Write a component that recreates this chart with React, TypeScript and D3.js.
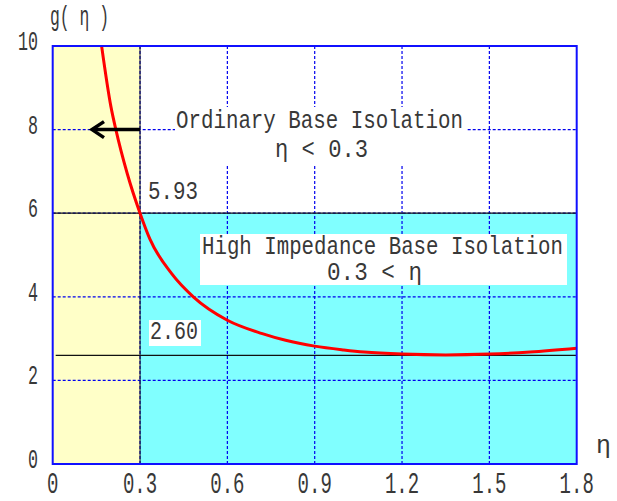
import React from "react";
import * as d3 from "d3";

// values
const etaValues = [0.168, 0.2, 0.217, 0.256, 0.3, 0.334, 0.408, 0.483, 0.6, 0.72, 0.8, 0.9, 1.0, 1.07, 1.2, 1.35, 1.5, 1.64, 1.8];
const gValues = [10.0, 8.55, 8.0, 6.95, 6.0, 5.38, 4.56, 4.0, 3.44, 3.12, 2.96, 2.82, 2.73, 2.68, 2.63, 2.61, 2.63, 2.68, 2.77];

const xTicks = [0, 0.3, 0.6, 0.9, 1.2, 1.5, 1.8];
const xTickLabels = ["0", "0.3", "0.6", "0.9", "1.2", "1.5", "1.8"];
const yTicks = [0, 2, 4, 6, 8, 10];
const yTickLabels = ["0", "2", "4", "6", "8", "10"];

const etaLimit = 0.3;
const gUpperLine = 6.0; // drawn level of the "5.93" line
const gMin = 2.6;
const arrowEnd = 0.135;
const arrowLevel = 8;

const WIDTH = 617;
const HEIGHT = 501;
const FONT = "'Liberation Mono', 'DejaVu Sans Mono', monospace";
const INK = "#383838";

const App = () => {
    const x = d3.scaleLinear().domain([0, 1.8]).range([52.7, 576.7]);
    const y = d3.scaleLinear().domain([0, 10]).range([464, 46]);

    const points: [number, number][] = etaValues.map((e, i) => [e, gValues[i]]);
    const line = d3.line<[number, number]>()
        .x(d => x(d[0]))
        .y(d => y(d[1]))
        .curve(d3.curveMonotoneX);

    const left = x(0), right = x(1.8), top = y(10), bottom = y(0);
    const ax = x(arrowEnd), ay = y(arrowLevel);

    return (
        <svg
            width={WIDTH}
            height={HEIGHT}
            style={{ position: "absolute", left: 0, top: 0, background: "#fff" }}
        >
            <defs>
                <clipPath id="plot">
                    <rect x={left} y={top} width={right - left} height={bottom - top} />
                </clipPath>
            </defs>

            {/* regions */}
            <rect x={left} y={top} width={x(etaLimit) - left} height={bottom - top} fill="#ffffc8" />
            <rect x={x(etaLimit)} y={y(gUpperLine)} width={right - x(etaLimit)} height={bottom - y(gUpperLine)} fill="#80ffff" />

            {/* grid */}
            {xTicks.slice(1, -1).map(t => (
                <line key={"gx" + t} x1={x(t)} x2={x(t)} y1={top} y2={bottom}
                    stroke="#0000ee" strokeWidth={1.2} strokeDasharray="3,2" />
            ))}
            {yTicks.slice(1, -1).map(t => (
                <line key={"gy" + t} x1={left} x2={right} y1={y(t)} y2={y(t)}
                    stroke="#0000ee" strokeWidth={1.2} strokeDasharray="3,2" />
            ))}

            {/* white label boxes */}
            <rect x={175} y={107} width={291} height={58} fill="#fff" />
            <rect x={200} y={234} width={367} height={51} fill="#fff" />
            <rect x={149} y={320} width={52} height={26} fill="#fff" />

            {/* reference lines */}
            <line x1={x(etaLimit)} x2={x(etaLimit)} y1={top} y2={bottom} stroke="#111" strokeWidth={1} />
            <line x1={left} x2={right} y1={y(gUpperLine)} y2={y(gUpperLine)} stroke="#111" strokeWidth={1.2} />
            <line x1={left + 3} x2={right} y1={y(gMin)} y2={y(gMin)} stroke="#111" strokeWidth={1.2} />

            {/* curve */}
            <path d={line(points) ?? ""} fill="none" stroke="#ff0000" strokeWidth={3} clipPath="url(#plot)" />

            {/* arrow */}
            <line x1={x(etaLimit)} x2={ax + 2} y1={ay} y2={ay} stroke="#000" strokeWidth={3.5} />
            <polyline points={`${ax + 12},${ay - 8} ${ax},${ay} ${ax + 12},${ay + 8}`}
                fill="none" stroke="#000" strokeWidth={3.5} strokeLinejoin="miter" />

            {/* frame */}
            <rect x={left} y={top} width={right - left} height={bottom - top}
                fill="none" stroke="#1010ff" strokeWidth={2} />

            {/* tick labels */}
            {xTicks.map((t, i) => (
                <text key={"tx" + t} x={x(t)} y={493} textAnchor="middle" fontFamily={FONT} fontSize={29}
                    fill={INK} textLength={xTickLabels[i].length * 11.4} lengthAdjust="spacingAndGlyphs">
                    {xTickLabels[i]}
                </text>
            ))}
            {yTicks.map((t, i) => (
                <text key={"ty" + t} x={38} y={y(t) + 4} textAnchor="end" fontFamily={FONT} fontSize={28}
                    fill={INK} textLength={yTickLabels[i].length * 10} lengthAdjust="spacingAndGlyphs">
                    {yTickLabels[i]}
                </text>
            ))}

            {/* axis titles */}
            <text x={50} y={25} fontFamily={FONT} fontSize={27} fill={INK} textLength={59} lengthAdjust="spacingAndGlyphs">g( η )</text>
            <text x={596} y={453} fontFamily={FONT} fontSize={25} fill={INK} textLength={15} lengthAdjust="spacingAndGlyphs">η</text>

            {/* annotations */}
            <text x={176} y={128} fontFamily={FONT} fontSize={26} fill={INK} textLength={287} lengthAdjust="spacingAndGlyphs">Ordinary Base Isolation</text>
            <text x={275} y={157} fontFamily={FONT} fontSize={26} fill={INK} textLength={93} lengthAdjust="spacingAndGlyphs">η &lt; 0.3</text>
            <text x={148} y={199} fontFamily={FONT} fontSize={26} fill={INK} textLength={50} lengthAdjust="spacingAndGlyphs">5.93</text>
            <text x={202} y={254} fontFamily={FONT} fontSize={26} fill={INK} textLength={361} lengthAdjust="spacingAndGlyphs">High Impedance Base Isolation</text>
            <text x={327} y={280} fontFamily={FONT} fontSize={26} fill={INK} textLength={95} lengthAdjust="spacingAndGlyphs">0.3 &lt; η</text>
            <text x={150} y={339} fontFamily={FONT} fontSize={26} fill={INK} textLength={48} lengthAdjust="spacingAndGlyphs">2.60</text>
        </svg>
    );
};

export default App;
